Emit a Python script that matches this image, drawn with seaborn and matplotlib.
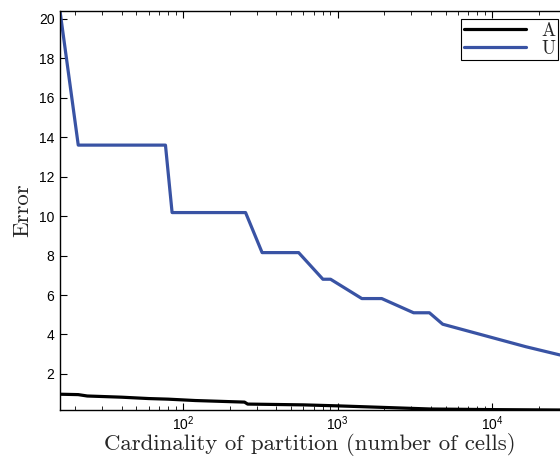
import matplotlib
matplotlib.use("Agg")
import matplotlib.pyplot as plt
import seaborn as sns
import pandas as pd
import numpy as np
from matplotlib.ticker import LogLocator, LogFormatterSciNotation, NullFormatter

# Data
u_cells = [16, 21, 77, 85, 254, 325, 560, 804, 901, 1436, 1932, 3105, 3930, 4790, 16500, 27500]
u_error = [20.4, 13.6, 13.6, 10.18, 10.18, 8.15, 8.15, 6.8, 6.8, 5.82, 5.82, 5.1, 5.1, 4.52, 3.38, 2.96]

a_cells = [16, 21, 24, 40, 60, 80, 120, 250, 262, 600, 1000, 2000, 4000, 10000, 27500]
a_error = [0.97, 0.95, 0.88, 0.82, 0.75, 0.72, 0.65, 0.57, 0.47, 0.43, 0.38, 0.30, 0.22, 0.19, 0.17]

series_names = ["A", "U"]
colors = {"A": "black", "U": "#3953a4"}
y_ticks = [2, 4, 6, 8, 10, 12, 14, 16, 18, 20]

df = pd.concat([
    pd.DataFrame({"cells": a_cells, "error": a_error, "series": "A"}),
    pd.DataFrame({"cells": u_cells, "error": u_error, "series": "U"}),
])

sns.set_style("ticks")
plt.rcParams["mathtext.fontset"] = "custom"
plt.rcParams["mathtext.rm"] = "Liberation Sans"
plt.rcParams["mathtext.it"] = "Liberation Sans"
plt.rcParams["font.family"] = ["Liberation Sans", "DejaVu Sans"]

fig = plt.figure(figsize=(5.6, 4.61), dpi=100)
ax = fig.add_axes([60/560, 51/461, 500/560, 399/461])

sns.lineplot(data=df, x="cells", y="error", hue="series", hue_order=series_names,
             palette=colors, estimator=None, sort=False, linewidth=2.3, ax=ax)

ax.set_xscale("log")
ax.set_xlim(16, 27500)
ax.set_ylim(0.17, 20.4)
ax.set_yticks(y_ticks)
ax.xaxis.set_major_locator(LogLocator(base=10))
ax.xaxis.set_major_formatter(LogFormatterSciNotation())
ax.xaxis.set_minor_locator(LogLocator(base=10, subs=np.arange(2, 10)))
ax.xaxis.set_minor_formatter(NullFormatter())

ax.tick_params(axis="both", which="both", direction="in", top=True, right=False,
               labelsize=10, colors="black")
ax.tick_params(axis="x", which="major", length=5, width=0.8, pad=3)
ax.tick_params(axis="x", which="minor", length=3, width=0.6)
ax.tick_params(axis="y", which="major", length=5, width=0.8, pad=4)

ax.spines["right"].set_visible(False)
for s in ["left", "top", "bottom"]:
    ax.spines[s].set_visible(True)
    ax.spines[s].set_linewidth(1.0)
    ax.spines[s].set_color("black")

ax.set_xlabel("Cardinality of partition (number of cells)", fontfamily="cmr10", fontsize=16.5, labelpad=0)
ax.set_ylabel("Error", fontfamily="cmr10", fontsize=16.5, labelpad=5)

handles, labels = ax.get_legend_handles_labels()
leg = ax.legend(handles, labels, loc="upper right", bbox_to_anchor=(0.996, 0.98),
                prop={"family": "cmr10", "size": 13.5}, frameon=True, fancybox=False,
                edgecolor="black", framealpha=1, handlelength=3.3, labelspacing=0.0,
                borderpad=0.15, handletextpad=0.8, borderaxespad=0)
leg.get_frame().set_linewidth(0.8)
for line in leg.get_lines():
    line.set_linewidth(2.3)

fig.savefig("out.png", dpi=100)
